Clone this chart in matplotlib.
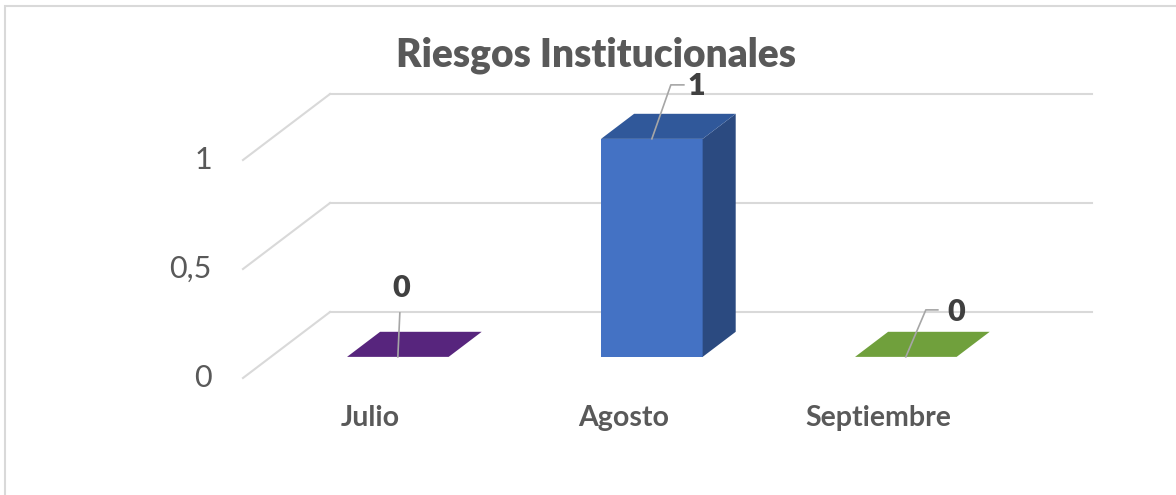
import numpy as np
import matplotlib
matplotlib.use('Agg')
import matplotlib.pyplot as plt
from matplotlib.patches import Polygon, Rectangle

# Chart data
months = ['Julio', 'Agosto', 'Septiembre']
values = [0, 1, 0]
y_ticks = [0, 0.5, 1]
y_tick_labels = ['0', '0,5', '1']
title = 'Riesgos Institucionales'

plt.rcParams['font.family'] = ['Lato', 'DejaVu Sans']

# colours per bar: (front, top, side)
face_colors = [('#57257D', '#57257D', '#411C5E'),
               ('#4472C4', '#30589A', '#2B4A80'),
               ('#70A03C', '#70A03C', '#547A2D')]

# oblique projection of the depth axis (category units, value units)
DX = 87 / 254
DY = 66 / 218
bar_w = 0.40
t0, t1 = 0.32, 0.70   # bar depth span inside the floor

PX_X = 254.0  # pixels per category
PX_Y = 218.0  # pixels per value unit

fig = plt.figure(figsize=(11.76, 4.95), dpi=100)
ax = fig.add_axes([0, 0, 1, 1])
ax.set_xlim(-0.5 - 243 / PX_X, -0.5 + (1176 - 243) / PX_X)
ax.set_ylim(-(495 - 378) / PX_Y, 378 / PX_Y)
ax.axis('off')

# chart border
fig.patches.append(Rectangle((5 / 1176, -0.1), 1.2, 1 - 6 / 495 + 0.1,
                             transform=fig.transFigure, fill=False,
                             edgecolor='#d9d9d9', lw=1.5))

grid_c = '#d9d9d9'
x0 = -0.5
x1 = len(months) - 0.5
for v, lab in zip(y_ticks, y_tick_labels):
    ax.plot([x0, x0 + DX], [v, v + DY], color=grid_c, lw=1.5, zorder=1)
    ax.plot([x0 + DX, x1 + DX], [v + DY, v + DY], color=grid_c, lw=1.5, zorder=1)
    ax.text(x0 - 31 / PX_X, v, lab, ha='right', va='center',
            fontsize=22, color='#595959')

# bars
for i, (v, cols) in enumerate(zip(values, face_colors)):
    xl = i - bar_w / 2 + t0 * DX
    xr = i + bar_w / 2 + t0 * DX
    yb = t0 * DY
    ddx = (t1 - t0) * DX
    ddy = (t1 - t0) * DY
    front = [(xl, yb), (xr, yb), (xr, yb + v), (xl, yb + v)]
    top = [(xl, yb + v), (xr, yb + v), (xr + ddx, yb + v + ddy), (xl + ddx, yb + v + ddy)]
    side = [(xr, yb), (xr + ddx, yb + ddy), (xr + ddx, yb + v + ddy), (xr, yb + v)]
    if v > 0:
        ax.add_patch(Polygon(front, closed=True, facecolor=cols[0], edgecolor='none', zorder=3))
        ax.add_patch(Polygon(side, closed=True, facecolor=cols[2], edgecolor='none', zorder=3))
    ax.add_patch(Polygon(top, closed=True, facecolor=cols[1], edgecolor='none', zorder=3))

    ax.text(i, -40 / PX_Y, months[i], ha='center', va='center',
            fontsize=20.5, fontweight='bold', color='#595959')

# data labels with leader lines (pixel offsets from bar front top centre)
label_offsets = [((2, -44), None, (3, -69)),
                 ((19, -54), (32, -54), (44, -53)),
                 ((20, -47), (32, -47), (50, -45))]
lead_c = '#a6a6a6'
for i, (v, offs) in enumerate(zip(values, label_offsets)):
    ax_x = i + t0 * DX
    ax_y = v + t0 * DY
    pts = [(0, 0)] + [o for o in offs[:2] if o is not None]
    xs = [ax_x + p[0] / PX_X for p in pts]
    ys = [ax_y - p[1] / PX_Y for p in pts]
    ax.plot(xs, ys, color=lead_c, lw=1.2, zorder=4)
    lx, ly = offs[2]
    ax.text(ax_x + lx / PX_X, ax_y - ly / PX_Y, str(v), ha='center', va='center',
            fontsize=22, fontweight='heavy', color='#404040', zorder=5)

fig.text(596 / 1176, 1 - 55 / 495, title, ha='center', va='center',
         fontsize=28, fontweight='heavy', color='#595959')

fig.savefig('out.png', dpi=100)
